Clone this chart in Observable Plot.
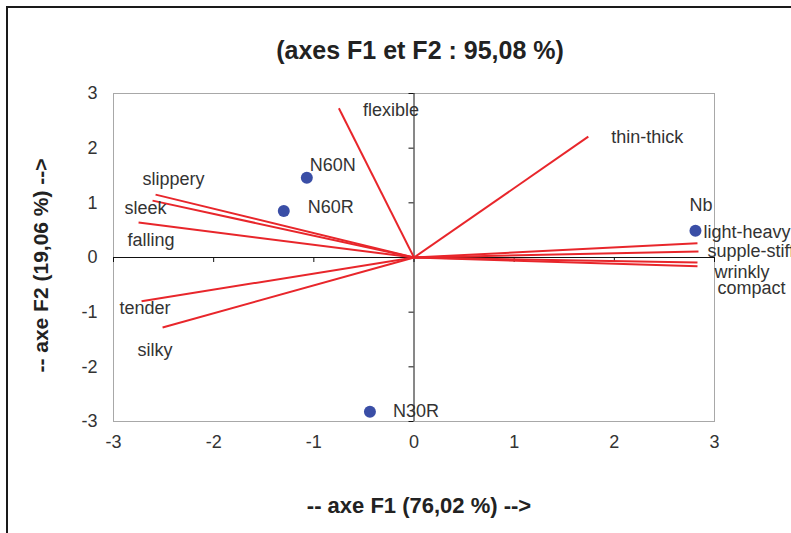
<!DOCTYPE html>
<html><head><meta charset="utf-8">
<script src="https://cdn.jsdelivr.net/npm/d3@7"></script>
<script src="https://cdn.jsdelivr.net/npm/@observablehq/plot@0.6"></script>
<style>
html,body{margin:0;padding:0;background:#fff;overflow:hidden;width:791px;height:533px;}
#wrap{position:relative;width:791px;height:533px;overflow:hidden;}
#border{position:absolute;left:6px;top:6px;width:900px;height:700px;border:2px solid #1a1a1a;box-sizing:border-box;pointer-events:none;}
#wrap svg{position:absolute;left:0;top:0;}
</style></head><body><div id="wrap"><div id="border"></div></div>
<script>
// Data
const title = "(axes F1 et F2 : 95,08 %)";
const xLabel = "-- axe F1 (76,02 %) -->";
const yLabel = "-- axe F2 (19,06 %) -->";
const xTicks = [-3, -2, -1, 0, 1, 2, 3];
const yTicks = [-3, -2, -1, 0, 1, 2, 3];

const variableNames = ["flexible", "thin-thick", "slippery", "sleek", "falling", "tender", "silky", "light-heavy", "supple-stiff", "wrinkly", "compact"];
const variableF1 = [-0.75, 1.74, -2.58, -2.61, -2.75, -2.72, -2.51, 2.83, 2.84, 2.83, 2.83];
const variableF2 = [2.73, 2.21, 1.15, 1.04, 0.64, -0.80, -1.28, 0.26, 0.11, -0.09, -0.16];

const sampleNames = ["N60N", "N60R", "N30R", "Nb"];
const sampleF1 = [-1.07, -1.30, -0.44, 2.81];
const sampleF2 = [1.46, 0.85, -2.82, 0.49];

// Layout (label offsets in pixels, like the spreadsheet's label placement)
const labelOffset = {
  "flexible": [24, 2], "thin-thick": [23, 1], "slippery": [-13, -15], "sleek": [-28, 8],
  "falling": [-11, 18], "tender": [-22, 7], "silky": [-25, 23], "light-heavy": [6, -11],
  "supple-stiff": [9, 0], "wrinkly": [17, 10], "compact": [20, 22],
  "N60N": [3, -12], "N60R": [24, -4], "N30R": [23, 0], "Nb": [-6, -25]
};

const variables = variableNames.map((name, i) => ({name, f1: variableF1[i], f2: variableF2[i]}));
const samples = sampleNames.map((name, i) => ({name, f1: sampleF1[i], f2: sampleF2[i]}));

const font = "'Liberation Sans', Arial, Helvetica, sans-serif";
const labelMarks = [...variables, ...samples].map(d => Plot.text([d], {
  x: "f1", y: "f2", text: "name", textAnchor: "start",
  dx: labelOffset[d.name][0], dy: labelOffset[d.name][1],
  fontSize: 18, fill: "#333"
}));

const chart = Plot.plot({
  width: 791, height: 533,
  marginLeft: 113, marginRight: 77, marginTop: 93, marginBottom: 112,
  style: {fontFamily: font, fontSize: "18px", color: "#333", background: "transparent", overflow: "visible"},
  x: {domain: [-3, 3], ticks: xTicks, tickSize: 0, tickPadding: 14, tickFormat: d => String(d), label: null},
  y: {domain: [-3, 3], ticks: yTicks, tickSize: 0, tickPadding: 16, tickFormat: d => String(d), label: null},
  marks: [
    Plot.frame({stroke: "#a8a8a8"}),
    Plot.ruleY([0], {stroke: "#111"}),
    Plot.ruleX([0], {stroke: "#111"}),
    Plot.ruleX(xTicks, {x: d => d, y1: 0, y2: 0, insetBottom: -5, stroke: "#111"}),
    Plot.ruleY(yTicks, {y: d => d, x1: 0, x2: 0, insetLeft: -5, stroke: "#111"}),
    Plot.link(variables, {x1: 0, y1: 0, x2: "f1", y2: "f2", stroke: "#e8262b", strokeWidth: 2}),
    Plot.dot(samples, {x: "f1", y: "f2", r: 6, fill: "#3a4ea6"}),
    ...labelMarks,
    Plot.text([title], {text: d => d, frameAnchor: "top", textAnchor: "middle", lineAnchor: "middle", dx: 6, dy: -43, fontSize: 25, fontWeight: "bold", fill: "#222"}),
    Plot.text([xLabel], {text: d => d, frameAnchor: "bottom", textAnchor: "middle", lineAnchor: "middle", dx: 5, dy: 84, fontSize: 22, fontWeight: "bold", fill: "#222"}),
    Plot.text([yLabel], {text: d => d, frameAnchor: "left", textAnchor: "middle", lineAnchor: "middle", dx: -72, dy: 8, rotate: -90, fontSize: 21, fontWeight: "bold", fill: "#222"})
  ]
});
document.getElementById("wrap").prepend(chart);
</script>
</body></html>
